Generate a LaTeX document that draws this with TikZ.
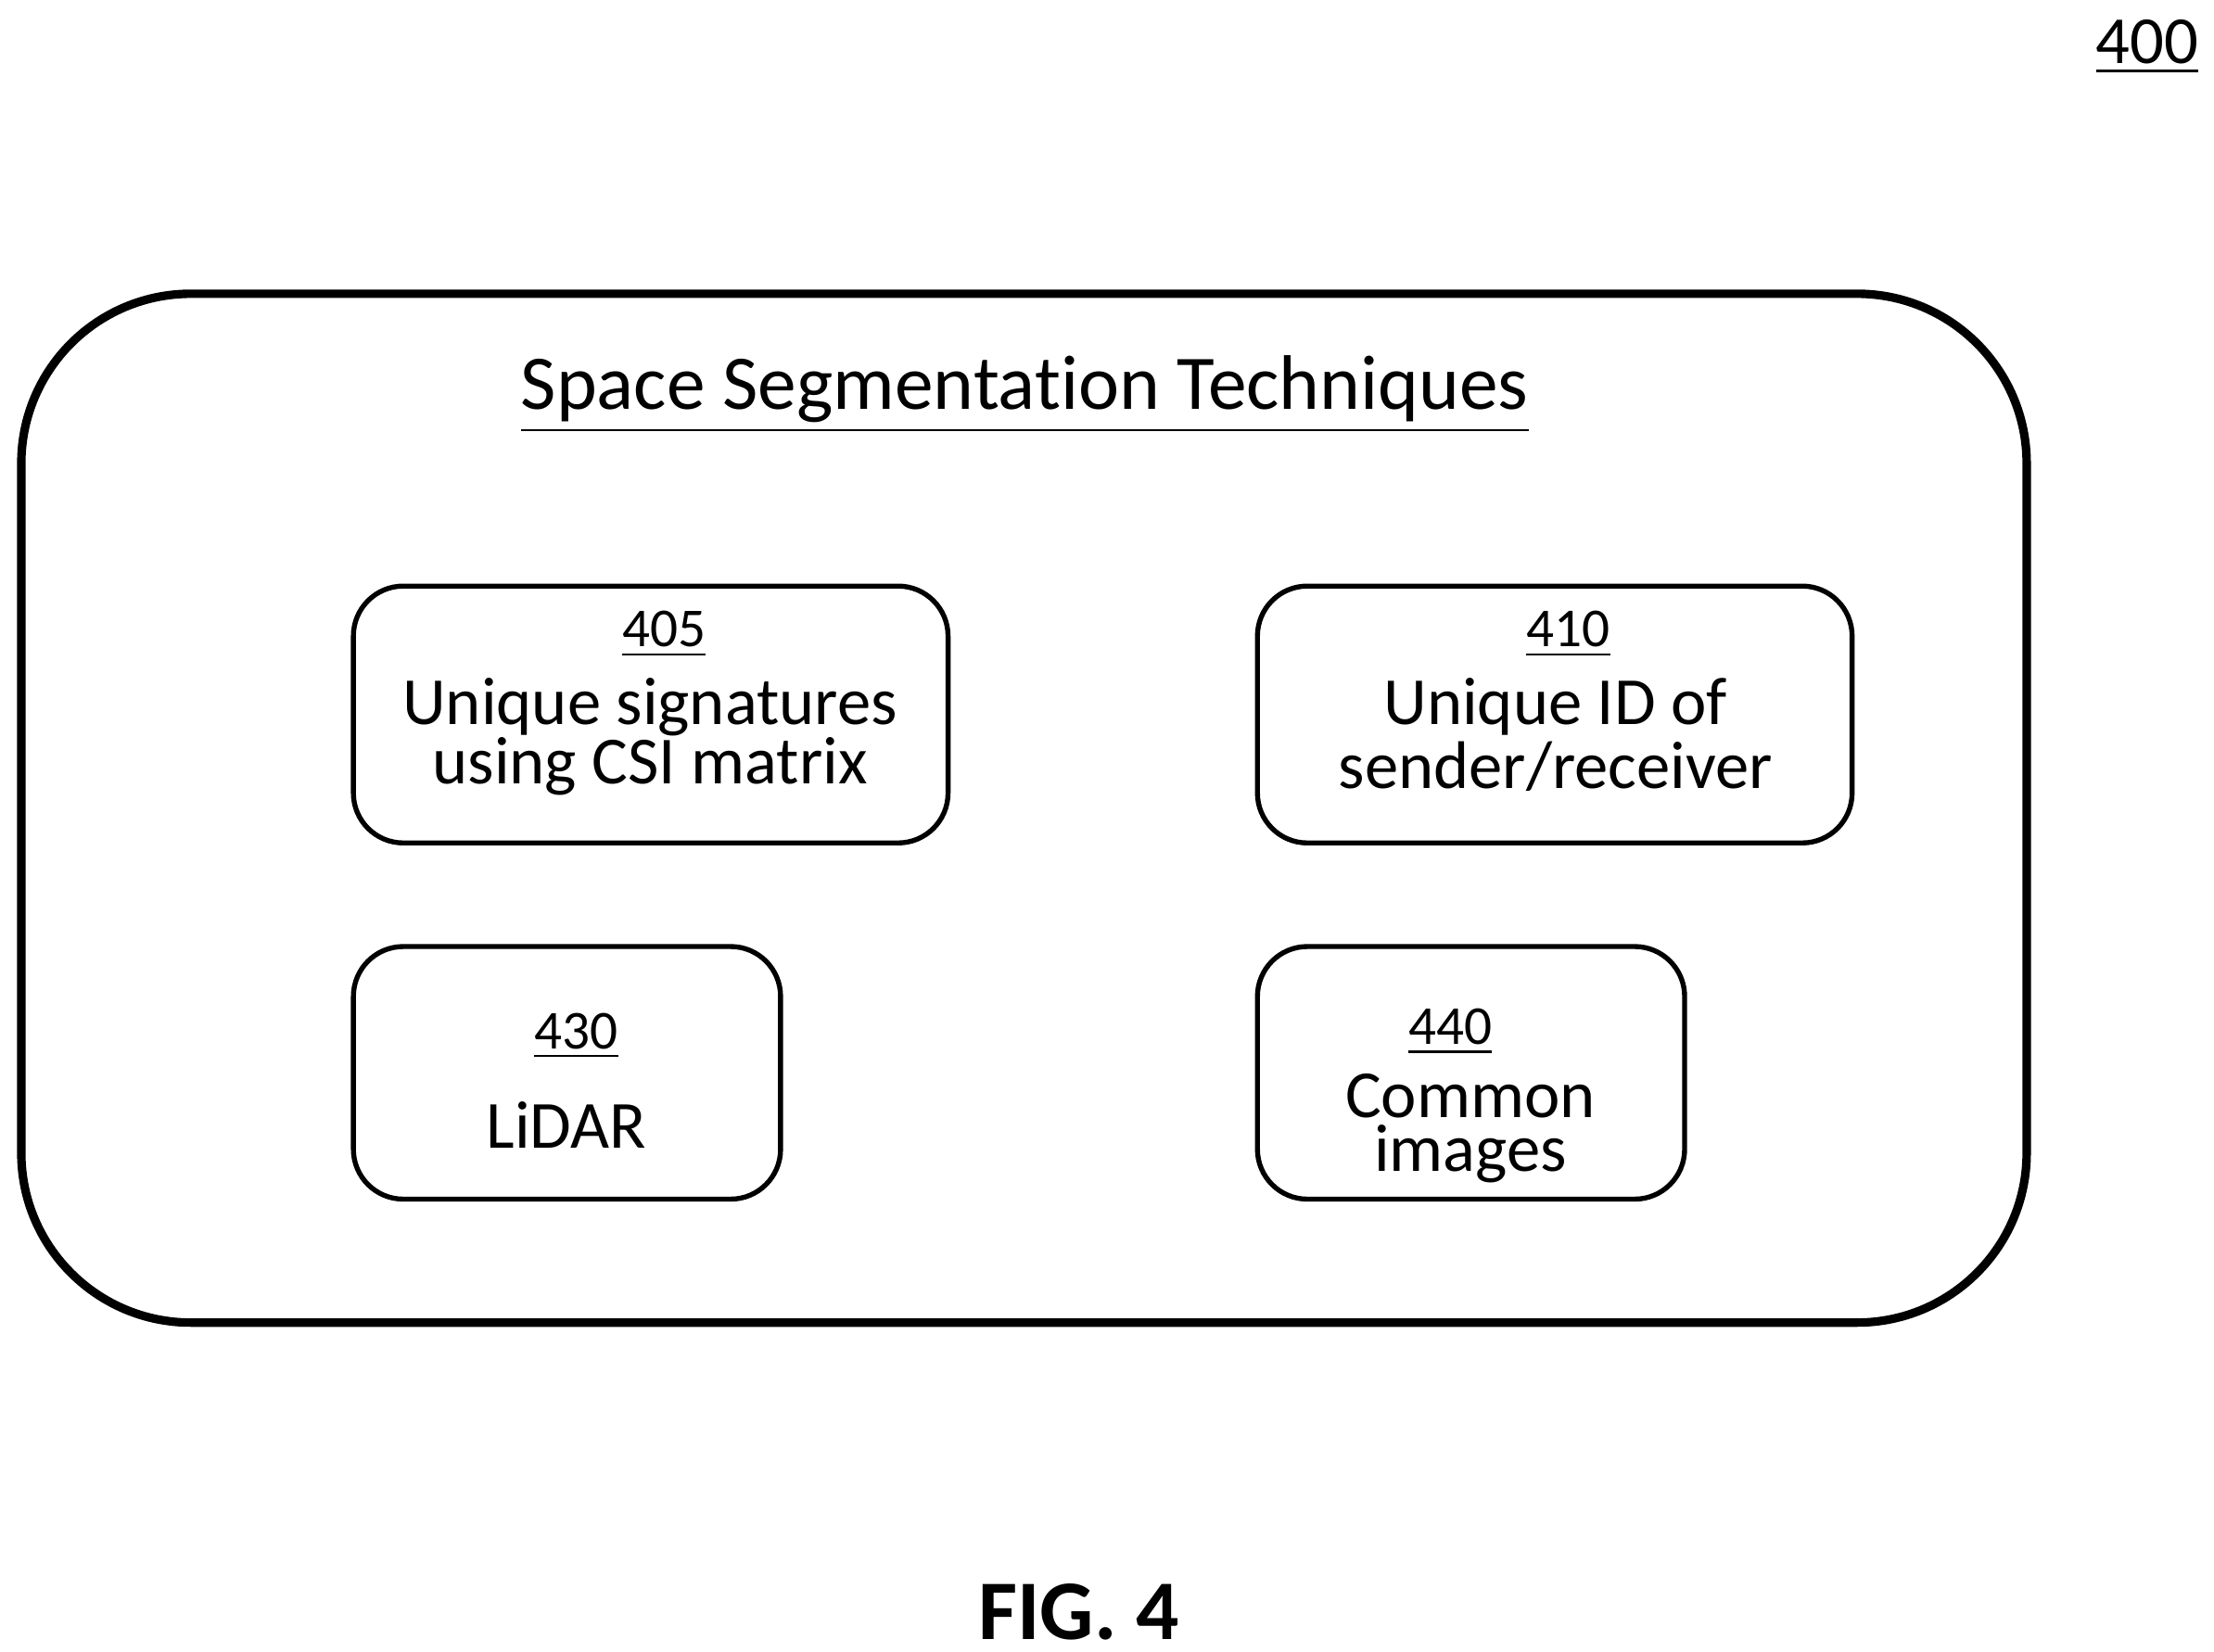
\documentclass[tikz,border=0pt]{standalone}
\usepackage{fontspec}
\setmainfont[Ligatures=NoCommon]{Carlito}
\begin{document}
\begin{tikzpicture}[x=0.01cm,y=-0.01cm,
  box/.style={draw,line width=1pt,rounded corners=10pt},
  num/.style={font=\fontsize{11pt}{12pt}\selectfont},
  txt/.style={font=\fontsize{13.5pt}{12pt}\selectfont,align=center,inner sep=1pt}]
\useasboundingbox (0,0) rectangle (1560,1164);
\draw[line width=1.7pt,rounded corners=34pt] (15,207) rectangle (1428,932);
\node[font=\fontsize{15.5pt}{18pt}\selectfont] (title) at (722,278) {\underline{Space Segmentation Techniques}};
\node (fig) at (1513,33) [font=\fontsize{13.5pt}{16pt}\selectfont] {\underline{400}};
\draw[box] (249,413) rectangle (668,594);
\draw[box] (886,413) rectangle (1305,594);
\draw[box] (249,667) rectangle (550,845);
\draw[box] (886,667) rectangle (1187,845);
\node[num] (n405) at (468,447) {\underline{405}};
\node[txt] (t405a) at (458,498) {Unique signatures};
\node[txt] (t405b) at (458,540) {using CSI matrix};
\node[num] (n410) at (1105,447) {\underline{410}};
\node[txt] (t410a) at (1096,498) {Unique ID of};
\node[txt] (t410b) at (1096,540) {sender/receiver};
\node[num] (n430) at (406,730) {\underline{430}};
\node[txt] (t430) at (399,793) {LiDAR};
\node[num] (n440) at (1022,727) {\underline{440}};
\node[txt] (t440a) at (1036,772) {Common};
\node[txt] (t440b) at (1036,813) {images};
\node[font=\bfseries\fontsize{17pt}{20pt}\selectfont] (cap) at (760,1136) {FIG. 4};
\end{tikzpicture}
\end{document}
